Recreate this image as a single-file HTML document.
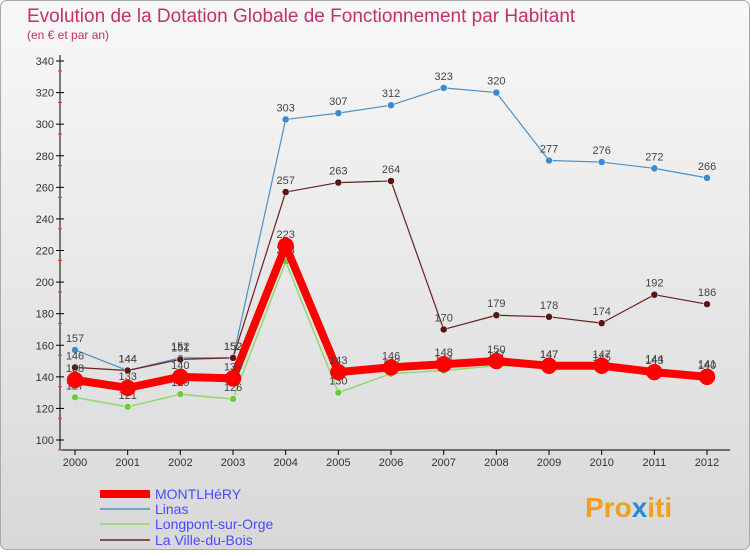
<!DOCTYPE html>
<html><head><meta charset="utf-8"><style>
body{margin:0;width:750px;height:550px;overflow:hidden;font-family:"Liberation Sans",sans-serif}
</style></head><body>
<svg width="750" height="550" xmlns="http://www.w3.org/2000/svg">
<defs><linearGradient id="bg" x1="0" y1="0" x2="0" y2="1"><stop offset="0" stop-color="#f8f8f8"/><stop offset="1" stop-color="#d8d8d8"/></linearGradient></defs>
<rect x="0.5" y="0.5" width="749" height="549" rx="6" fill="url(#bg)" stroke="#aaa"/>
<text x="27" y="22" font-size="19" fill="#c2306e">Evolution de la Dotation Globale de Fonctionnement par Habitant</text>
<text x="27" y="39" font-size="12" fill="#c2306e">(en € et par an)</text>
<g id="axes"></g><g id="series"></g><g id="legend"></g>
<text x="585" y="517" font-size="28" font-weight="bold" fill="#f0a020">Pro<tspan fill="#2a8ad0">x</tspan>iti</text>
</svg>
<script>
const years=[2000,2001,2002,2003,2004,2005,2006,2007,2008,2009,2010,2011,2012];
const yTicks=[100,120,140,160,180,200,220,240,260,280,300,320,340];
const montlhery=[138,133,140,139,223,143,146,148,150,147,147,143,140];
const linas=[157,144,152,152,303,307,312,323,320,277,276,272,266];
const longpont=[127,121,129,126,213,130,142,144,147,147,145,144,141];
const ville=[146,144,151,152,257,263,264,170,179,178,174,192,186];
const NS="http://www.w3.org/2000/svg";
const xS=i=>75+i*52.67, yS=v=>440-(v-100)*379/240;
function mk(p,t,a){const e=document.createElementNS(NS,t);for(const k in a)e.setAttribute(k,a[k]);p.appendChild(e);return e;}
const ax=document.getElementById('axes');
let l=mk(ax,'line',{x1:60,y1:55,x2:60,y2:450,stroke:'#000'});


l=mk(ax,'line',{x1:60,y1:450,x2:730,y2:450,stroke:'#000'});


yTicks.forEach(v=>{const y=yS(v);mk(ax,'line',{x1:56,y1:y,x2:64,y2:y,stroke:'#000'});mk(ax,'line',{x1:58,y1:y+9.9,x2:62,y2:y+9.9,stroke:'#e33'});
const t=mk(ax,'text',{x:54,y:y+4,'font-size':11,'text-anchor':'end',fill:'#333'});t.textContent=v;

});
years.forEach((yr,i)=>{const x=xS(i);mk(ax,'line',{x1:x,y1:450,x2:x,y2:455,stroke:'#000'});
const t=mk(ax,'text',{x:x,y:466,'font-size':11,'text-anchor':'middle',fill:'#333'});t.textContent=yr;

});
const sg=document.getElementById('series');
const series=[
{name:'linas',d:linas,c:'#4a90c8',w:1.2,r:3.5,fc:'#3a8ad0'},
{name:'la-ville-du-bois',d:ville,c:'#6a2020',w:1.2,r:3.5,fc:'#5a1515'},
{name:'longpont-sur-orge',d:longpont,c:'#90d870',w:1.5,r:3.5,fc:'#70c840'},
{name:'montlhery',d:montlhery,c:'#ff0000',w:8,r:8,fc:'#ff0000'}];
series.forEach(s=>{const g=mk(sg,'g',{});


mk(g,'polyline',{points:s.d.map((v,i)=>xS(i)+','+yS(v)).join(' '),fill:'none',stroke:s.c,'stroke-width':s.w,'stroke-linejoin':'round'});
s.d.forEach((v,i)=>{const c=mk(g,'circle',{cx:xS(i),cy:yS(v),r:s.r,fill:s.fc,stroke:s.name==='montlhery'?'#e00':'#fff','stroke-width':0.5});


const t=mk(g,'text',{x:xS(i),y:yS(v)-8,'font-size':11,'text-anchor':'middle',fill:'#444'});t.textContent=v;

});});
const lg=document.getElementById('legend');
const leg=[['MONTLHéRY','#ff0000',8,494],['Linas','#4a90c8',1.5,509],['Longpont-sur-Orge','#90d870',1.5,524],['La Ville-du-Bois','#6a2020',1.5,540]];
leg.forEach(e=>{const g=mk(lg,'g',{});


mk(g,'line',{x1:100,y1:e[3],x2:150,y2:e[3],stroke:e[1],'stroke-width':e[2]});
const t=mk(g,'text',{x:155,y:e[3]+5,'font-size':14,fill:'#4a4aff'});t.textContent=e[0];});
</script>
</body></html>
